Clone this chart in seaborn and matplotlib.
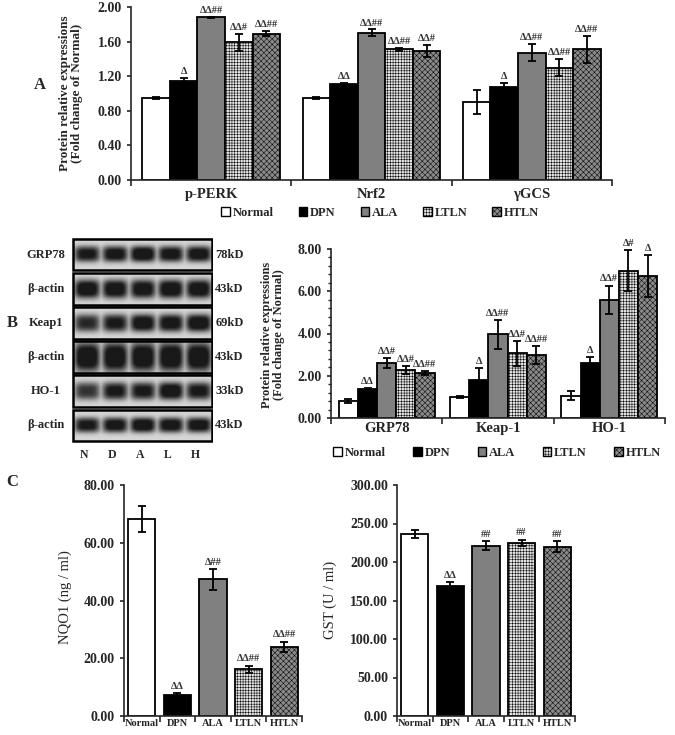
import numpy as np
import pandas as pd
import matplotlib
matplotlib.use("Agg")
import matplotlib.pyplot as plt
import seaborn as sns
from matplotlib.patches import Patch, Rectangle
from matplotlib.container import BarContainer
from matplotlib.ticker import FormatStrFormatter, FixedLocator, AutoMinorLocator

# ---------------- data ----------------
groups = ["Normal", "DPN", "ALA", "LTLN", "HTLN"]

# Panel A: fold change of Normal
a_proteins = ["p-PERK", "Nrf2", "γGCS"]
a_pperk = [0.95, 1.15, 1.88, 1.59, 1.69]
a_pperk_err = [0.01, 0.03, 0.01, 0.10, 0.03]
a_pperk_sig = ["", "Δ", "ΔΔ##", "ΔΔ#", "ΔΔ##"]
a_nrf2 = [0.95, 1.11, 1.70, 1.51, 1.49]
a_nrf2_err = [0.01, 0.01, 0.04, 0.02, 0.07]
a_nrf2_sig = ["", "ΔΔ", "ΔΔ##", "ΔΔ##", "ΔΔ#"]
a_gcs = [0.90, 1.07, 1.47, 1.30, 1.51]
a_gcs_err = [0.14, 0.05, 0.10, 0.10, 0.16]
a_gcs_sig = ["", "Δ", "ΔΔ##", "ΔΔ##", "ΔΔ##"]

# Panel B: fold change of Normal
b_proteins = ["GRP78", "Keap-1", "HO-1"]
b_grp78 = [0.80, 1.37, 2.60, 2.27, 2.14]
b_grp78_err = [0.08, 0.04, 0.24, 0.20, 0.10]
b_grp78_sig = ["", "ΔΔ", "ΔΔ#", "ΔΔ#", "ΔΔ##"]
b_keap1 = [0.99, 1.81, 3.96, 3.06, 2.98]
b_keap1_err = [0.03, 0.55, 0.69, 0.60, 0.42]
b_keap1_sig = ["", "Δ", "ΔΔ##", "ΔΔ#", "ΔΔ##"]
b_ho1 = [1.06, 2.60, 5.60, 6.97, 6.73]
b_ho1_err = [0.20, 0.28, 0.67, 0.97, 1.00]
b_ho1_sig = ["", "Δ", "ΔΔ#", "Δ#", "Δ"]

# Western blot rows (band darkness per lane N, D, A, L, H)
blot_rows = ["GRP78", "β-actin", "Keap1", "β-actin", "HO-1", "β-actin"]
blot_kd = ["78kD", "43kD", "69kD", "43kD", "33kD", "43kD"]
blot_grp78 = [0.85, 0.90, 1.00, 0.90, 0.92]
blot_actin1 = [0.95, 0.95, 0.92, 0.97, 0.95]
blot_keap1 = [0.75, 0.85, 0.95, 0.92, 0.97]
blot_actin2 = [1.00, 1.00, 1.00, 1.00, 1.00]
blot_ho1 = [0.70, 0.85, 0.85, 0.97, 0.85]
blot_actin3 = [0.85, 0.90, 0.97, 0.92, 0.92]
blot_band_h = [0.38, 0.45, 0.42, 0.70, 0.42, 0.36]
lanes = ["N", "D", "A", "L", "H"]

# Panel C
c_nqo1 = [68.2, 7.2, 47.3, 16.2, 24.0]
c_nqo1_err = [4.5, 0.6, 3.5, 1.2, 1.8]
c_nqo1_sig = ["", "ΔΔ", "Δ##", "ΔΔ##", "ΔΔ##"]
c_gst = [236, 169, 221, 225, 220]
c_gst_err = [5, 5, 6, 4, 7]
c_gst_sig = ["", "ΔΔ", "##", "##", "##"]

# ---------------- style ----------------
sns.set_style("ticks")
plt.rcParams["font.family"] = ["Liberation Serif", "DejaVu Serif"]
plt.rcParams["font.weight"] = "bold"
plt.rcParams["axes.labelweight"] = "bold"
plt.rcParams["hatch.linewidth"] = 0.35
plt.rcParams["axes.linewidth"] = 1.2

colors = {"Normal": "white", "DPN": "black", "ALA": "#808080",
          "LTLN": "#e4e4e4", "HTLN": "#8a8a8a"}
hatches = {"Normal": "", "DPN": "", "ALA": "", "LTLN": "++++++", "HTLN": "xxxxxx"}

W, H = 675, 735
fig = plt.figure(figsize=(W / 100, H / 100), dpi=100)


def px_axes(x0, y0, x1, y1):
    # axes from pixel box (left, top, right, bottom)
    return fig.add_axes([x0 / W, 1 - y1 / H, (x1 - x0) / W, (y1 - y0) / H])


def long_df(proteins, vals):
    rows = []
    for p, v in zip(proteins, vals):
        for g, y in zip(groups, v):
            rows.append({"protein": p, "group": g, "value": y})
    return pd.DataFrame(rows)


def decorate(ax, errs, sigs, pad, fs, redundant=False):
    conts = [c for c in ax.containers if isinstance(c, BarContainer)]
    for j, cont in enumerate(conts):
        for bar in cont:
            bar.set_hatch(hatches[groups[j]])
            x = bar.get_x() + bar.get_width() / 2
            h = bar.get_height()
            i = int(round(x))
            e = errs[i] if redundant else errs[i][j]
            s = sigs[i] if redundant else sigs[i][j]
            ax.errorbar(x, h, yerr=e, color="black", capsize=3, lw=1.3,
                        capthick=1.3, zorder=5)
            if s:
                ax.text(x, h + e + pad, s, ha="center", va="bottom",
                        fontsize=fs, color="#333333")


def style_axes(ax, ncat, ymax, step, fmt="%.2f"):
    sns.despine(ax=ax)
    ax.set_ylim(0, ymax)
    ax.set_xlim(-0.5, ncat - 0.5)
    ax.yaxis.set_major_locator(FixedLocator(np.arange(0, ymax + step / 2, step)))
    ax.yaxis.set_major_formatter(FormatStrFormatter(fmt))
    ax.xaxis.set_minor_locator(FixedLocator(np.arange(-0.5, ncat, 1)))
    ax.tick_params(axis="x", which="major", length=0)
    ax.tick_params(axis="x", which="minor", length=4, width=1.2, direction="out")
    ax.tick_params(axis="y", length=3, width=1.2)
    ax.set_xlabel("")
    ax.set_ylabel("")


# ---------------- panel A ----------------
axA = px_axes(131, 7, 612, 180)
dfA = long_df(a_proteins, [a_pperk, a_nrf2, a_gcs])
sns.barplot(data=dfA, x="protein", y="value", hue="group", order=a_proteins,
            hue_order=groups, palette=colors, width=0.86, edgecolor="black",
            linewidth=1.3, errorbar=None, legend=False, ax=axA)
style_axes(axA, 3, 2.0, 0.4)
decorate(axA, [a_pperk_err, a_nrf2_err, a_gcs_err],
         [a_pperk_sig, a_nrf2_sig, a_gcs_sig], 0.02, 7.5)
axA.tick_params(axis="x", labelsize=10.5, pad=6)
axA.tick_params(axis="y", labelsize=10)
fig.text(71 / W, 1 - 93 / H, "Protein relative expressions\n(Fold change of Normal)",
         rotation=90, ha="center", va="center", fontsize=9.5, linespacing=1.0)
fig.text(40 / W, 1 - 85 / H, "A", fontsize=12, ha="center", va="center")

handles = [Patch(facecolor=colors[g], edgecolor="black", hatch=hatches[g], lw=1)
           for g in groups]
fig.legend(handles, groups, loc="center", bbox_to_anchor=(380 / W, 1 - 213 / H),
           ncol=5, frameon=False, handlelength=0.7, handleheight=0.7,
           handletextpad=0.2, columnspacing=2.0, prop={"size": 9, "weight": "bold"})

# ---------------- panel B: blot ----------------
axBl = px_axes(72, 237, 213, 443)
axBl.set_xlim(-0.02, 5.02)
axBl.set_ylim(6.02, -0.02)
axBl.axis("off")
blot_vals = [blot_grp78, blot_actin1, blot_keap1, blot_actin2, blot_ho1, blot_actin3]
xs = np.linspace(0, 5, 200)
ys = np.linspace(0, 1, 40)
X, Y = np.meshgrid(xs, ys)
for r, (dark, bh) in enumerate(zip(blot_vals, blot_band_h)):
    band = np.zeros_like(X)
    for k, d in enumerate(dark):
        hx = np.exp(-np.abs((X - (k + 0.5)) / 0.46) ** 4)
        hy = np.exp(-np.abs((Y - 0.5) / (bh / 1.5)) ** 3)
        band = np.maximum(band, d * hx * hy)
    img = 0.84 - 0.74 * np.clip(band * 1.25, 0, 1)
    axBl.imshow(img, cmap="gray", vmin=0, vmax=1, aspect="auto",
                extent=(0, 5, r + 0.96, r + 0.04), interpolation="bilinear")
    axBl.add_patch(Rectangle((0, r + 0.04), 5, 0.92, fill=False, ec="black", lw=1.8))
    axBl.text(-0.95, r + 0.5, blot_rows[r], ha="center", va="center", fontsize=9,
              clip_on=False)
    axBl.text(5.1, r + 0.5, blot_kd[r], ha="left", va="center", fontsize=9,
              clip_on=False)
for k, lab in enumerate(lanes):
    axBl.text(k + 0.4, 6.36, lab, ha="center", va="center", fontsize=8.5,
              clip_on=False)
fig.text(12 / W, 1 - 323 / H, "B", fontsize=12, ha="center", va="center")

# ---------------- panel B: chart ----------------
axB = px_axes(331, 249, 665, 418)
dfB = long_df(b_proteins, [b_grp78, b_keap1, b_ho1])
sns.barplot(data=dfB, x="protein", y="value", hue="group", order=b_proteins,
            hue_order=groups, palette=colors, width=0.86, edgecolor="black",
            linewidth=1.3, errorbar=None, legend=False, ax=axB)
style_axes(axB, 3, 8.0, 2.0)
axB.yaxis.set_minor_locator(AutoMinorLocator(5))
axB.tick_params(axis="y", which="minor", length=2, width=1)
decorate(axB, [b_grp78_err, b_keap1_err, b_ho1_err],
         [b_grp78_sig, b_keap1_sig, b_ho1_sig], 0.1, 7.5)
axB.tick_params(axis="x", labelsize=10.5, pad=3)
axB.tick_params(axis="y", labelsize=10)
fig.text(273 / W, 1 - 335 / H, "Protein relative expressions\n(Fold change of Normal)",
         rotation=90, ha="center", va="center", fontsize=9, linespacing=1.0)

fig.legend(handles, groups, loc="center", bbox_to_anchor=(497 / W, 1 - 453 / H),
           ncol=5, frameon=False, handlelength=0.7, handleheight=0.7,
           handletextpad=0.2, columnspacing=2.2, prop={"size": 9, "weight": "bold"})

# ---------------- panel C ----------------
dfC = pd.DataFrame({"group": groups, "nqo1": c_nqo1, "gst": c_gst})

axC1 = px_axes(124, 485, 302, 716)
sns.barplot(data=dfC, x="group", y="nqo1", hue="group", order=groups,
            hue_order=groups, palette=colors, width=0.76, edgecolor="black",
            linewidth=1.3, errorbar=None, legend=False, ax=axC1)
style_axes(axC1, 5, 80, 20)
decorate(axC1, c_nqo1_err, c_nqo1_sig, 0.8, 7.5, redundant=True)
axC1.tick_params(axis="x", labelsize=7.5, pad=2)
axC1.tick_params(axis="y", labelsize=10)
fig.text(65 / W, 1 - 597 / H, "NQO1 (ng / ml)", rotation=90, ha="center",
         va="center", fontsize=10.5, fontweight="normal")
fig.text(12 / W, 1 - 482 / H, "C", fontsize=12, ha="center", va="center")

axC2 = px_axes(397, 485, 575, 716)
sns.barplot(data=dfC, x="group", y="gst", hue="group", order=groups,
            hue_order=groups, palette=colors, width=0.76, edgecolor="black",
            linewidth=1.3, errorbar=None, legend=False, ax=axC2)
style_axes(axC2, 5, 300, 50)
decorate(axC2, c_gst_err, c_gst_sig, 3, 7.5, redundant=True)
axC2.tick_params(axis="x", labelsize=7.5, pad=2)
axC2.tick_params(axis="y", labelsize=10)
fig.text(330 / W, 1 - 600 / H, "GST (U / ml)", rotation=90, ha="center",
         va="center", fontsize=10.5, fontweight="normal")

fig.savefig("out.png", dpi=100)
